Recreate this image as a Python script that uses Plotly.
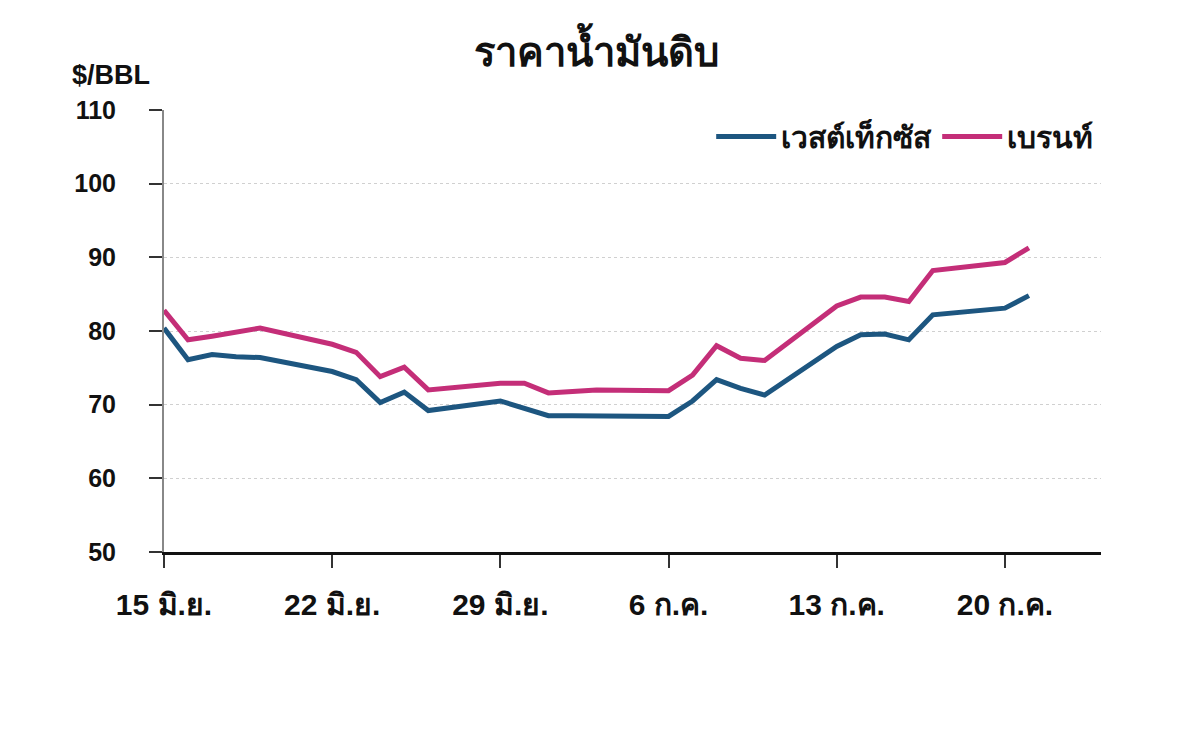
import plotly.graph_objects as go

dates = ["2009-06-15", "2009-06-16", "2009-06-17", "2009-06-18", "2009-06-19",
         "2009-06-22", "2009-06-23", "2009-06-24", "2009-06-25", "2009-06-26",
         "2009-06-29", "2009-06-30", "2009-07-01", "2009-07-02", "2009-07-03",
         "2009-07-06", "2009-07-07", "2009-07-08", "2009-07-09", "2009-07-10",
         "2009-07-13", "2009-07-14", "2009-07-15", "2009-07-16", "2009-07-17",
         "2009-07-20", "2009-07-21"]
wti = [80.4, 76.1, 76.8, 76.5, 76.4,
       74.5, 73.4, 70.3, 71.7, 69.2,
       70.5, 69.5, 68.5, 68.5, 68.5,
       68.4, 70.5, 73.4, 72.2, 71.3,
       77.9, 79.5, 79.6, 78.8, 82.2,
       83.1, 84.8]
brent = [82.8, 78.8, 79.3, 79.9, 80.4,
         78.2, 77.1, 73.8, 75.1, 72.0,
         72.9, 72.9, 71.6, 71.8, 72.0,
         71.9, 74.0, 78.0, 76.3, 76.0,
         83.4, 84.6, 84.6, 84.0, 88.2,
         89.3, 91.3]
tick_dates = ["2009-06-15", "2009-06-22", "2009-06-29", "2009-07-06", "2009-07-13", "2009-07-20"]
tick_labels = ["15 มิ.ย.", "22 มิ.ย.", "29 มิ.ย.", "6 ก.ค.", "13 ก.ค.", "20 ก.ค."]
y_ticks = [50, 60, 70, 80, 90, 100, 110]

FONT = "Liberation Sans, Arial, sans-serif"

fig = go.Figure()
fig.add_trace(go.Scatter(x=dates, y=wti, mode="lines", name="<b>เวสต์เท็กซัส</b>",
                         line=dict(color="#1d5680", width=5)))
fig.add_trace(go.Scatter(x=dates, y=brent, mode="lines", name="<b>เบรนท์</b>",
                         line=dict(color="#c42e78", width=5)))

fig.update_layout(
    width=1200, height=738,
    margin=dict(l=164, r=99, t=110, b=186),
    paper_bgcolor="white", plot_bgcolor="white",
    font=dict(family=FONT, color="#111111", size=20),
    title=dict(text="<b>ราคาน้ำมันดิบ</b>", x=0.497, xanchor="center", y=0.93, yanchor="middle",
               font=dict(size=40, color="#111111", family=FONT)),
    showlegend=True,
    legend=dict(orientation="h", x=0.997, xanchor="right", y=0.94, yanchor="middle",
                font=dict(size=30, color="#111111", family=FONT),
                bgcolor="rgba(0,0,0,0)", itemwidth=60),
    annotations=[dict(text="<b>$/BBL</b>", xref="paper", yref="paper", x=-0.1, y=1.08,
                      xanchor="left", yanchor="middle", showarrow=False,
                      font=dict(size=27, color="#111111", family=FONT))],
)
fig.update_xaxes(
    type="date", range=["2009-06-15", "2009-07-24"],
    tickvals=tick_dates, ticktext=["<b>%s</b>" % t for t in tick_labels],
    ticks="outside", ticklen=13, tickwidth=1.5, tickcolor="#333333",
    showline=True, linecolor="#111111", linewidth=3,
    showgrid=False, zeroline=False,
    tickfont=dict(size=30, color="#111111"),
    ticklabelstandoff=11,
)
fig.update_yaxes(
    range=[50, 110], tickvals=y_ticks, ticktext=["<b>%d</b>" % v for v in y_ticks],
    ticks="outside", ticklen=13, tickwidth=2, tickcolor="#333333",
    showline=True, linecolor="#888888", linewidth=2,
    showgrid=True, gridcolor="#d0d0d0", griddash="dot", gridwidth=1,
    zeroline=False,
    tickfont=dict(size=25, color="#111111"),
    ticklabelstandoff=28,
)

fig.write_html("out.html")
